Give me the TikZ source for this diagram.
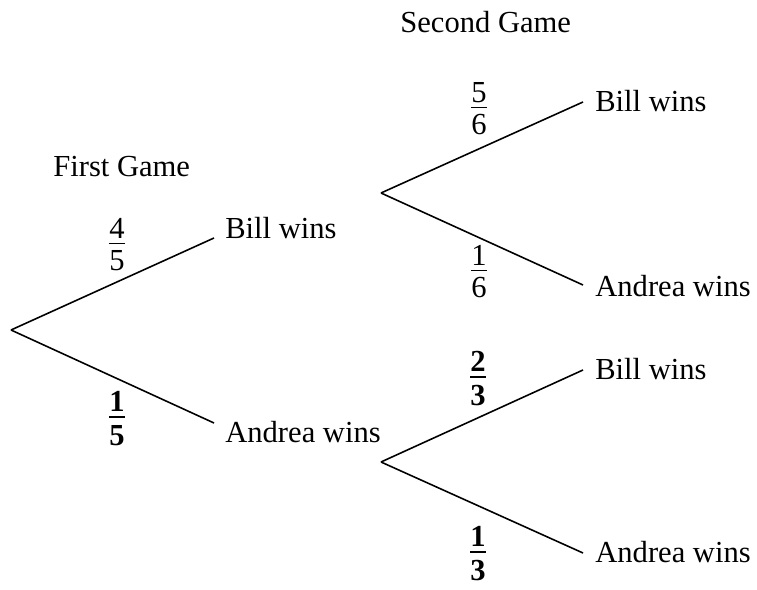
\documentclass[tikz,border=0pt]{standalone}
\usepackage{fontspec}
\setmainfont{Liberation Serif}
\usepackage{amsmath}

\newcommand{\pfrac}[2]{$\genfrac{}{}{0.55pt}{1}{\hbox{#1}}{\hbox{\rule{0pt}{15pt}#2}}$}
\newcommand{\pfracb}[2]{{\boldmath$\genfrac{}{}{0.9pt}{1}{\hbox{\bfseries #1}}{\hbox{\bfseries\rule{0pt}{15pt}#2}}$}}

\begin{document}
\begin{tikzpicture}[x=0.02cm, y=-0.02cm, font=\fontsize{17.4}{21}\selectfont,
  branch/.style={line width=0.9pt},
  outcome/.style={anchor=base west, inner sep=0pt},
  prob/.style={anchor=base, inner sep=0pt}]
  \useasboundingbox (0,0) rectangle (757,590);

  % Headings
  \node[outcome] (game1) at (53,177) {First Game};
  \node[outcome] (game2) at (400,33) {Second Game};

  % First game
  \coordinate (r0) at (11,330);
  \coordinate (bill1) at (214,238);
  \coordinate (andrea1) at (214,423);
  \draw[branch] (r0) -- (bill1);
  \draw[branch] (r0) -- (andrea1);
  \node[outcome] (lbill1) at (225,239) {Bill wins};
  \node[outcome] (landrea1) at (225,443) {Andrea wins};
  \node[prob] (p45) at (117,250.6) {\pfrac{4}{5}};
  \node[prob] (p15) at (117,424.6) {\pfracb{1}{5}};

  % Second game after Bill wins
  \coordinate (r1) at (381,193);
  \coordinate (bill2) at (583,102);
  \coordinate (andrea2) at (583,285);
  \draw[branch] (r1) -- (bill2);
  \draw[branch] (r1) -- (andrea2);
  \node[outcome] (lbill2) at (595,112) {Bill wins};
  \node[outcome] (landrea2) at (595,297) {Andrea wins};
  \node[prob] (p56) at (479,114.6) {\pfrac{5}{6}};
  \node[prob] (p16) at (479,277.6) {\pfrac{1}{6}};

  % Second game after Andrea wins
  \coordinate (r2) at (381,462);
  \coordinate (bill3) at (583,370);
  \coordinate (andrea3) at (583,553);
  \draw[branch] (r2) -- (bill3);
  \draw[branch] (r2) -- (andrea3);
  \node[outcome] (lbill3) at (595,380) {Bill wins};
  \node[outcome] (landrea3) at (595,563) {Andrea wins};
  \node[prob] (p23) at (478,384.6) {\pfracb{2}{3}};
  \node[prob] (p13) at (478,559.6) {\pfracb{1}{3}};
\end{tikzpicture}
\end{document}
